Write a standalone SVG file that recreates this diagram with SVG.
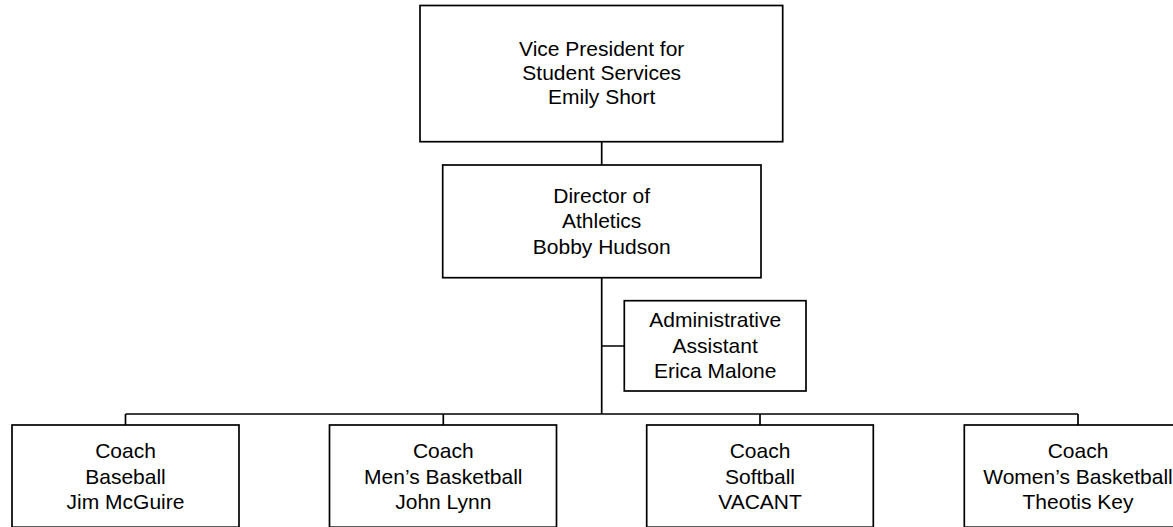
<svg xmlns="http://www.w3.org/2000/svg" width="1173" height="527" viewBox="0 0 1173 527">
<style>
.box{fill:#fff;stroke:#000;stroke-width:1.7}
.ln{fill:none;stroke:#000;stroke-width:1.7}
text{font-family:"Liberation Sans",Arial,sans-serif;font-size:21px;fill:#000;text-anchor:middle}
</style>
<rect width="1173" height="527" fill="#fff"/>
<g id="connectors">
<path class="ln" d="M601.7 141.7V165M601.7 277.7V414M601.7 346H624.3M125.5 414H1078M125.5 414V425M443.3 414V425M760 414V425M1078 414V425"/>
</g>
<g id="vp">
<rect class="box" x="420" y="5.5" width="362.7" height="136.2"/>
<text x="601.7" y="56">Vice President for</text>
<text x="601.7" y="80">Student Services</text>
<text x="601.7" y="104">Emily Short</text>
</g>
<g id="director">
<rect class="box" x="442.7" y="165" width="318.3" height="112.7"/>
<text x="601.7" y="203">Director of</text>
<text x="601.7" y="228.3">Athletics</text>
<text x="601.7" y="253.5">Bobby Hudson</text>
</g>
<g id="admin">
<rect class="box" x="624.3" y="300.7" width="181.7" height="90.3"/>
<text x="715.2" y="327">Administrative</text>
<text x="715.2" y="352.5">Assistant</text>
<text x="715.2" y="378">Erica Malone</text>
</g>
<g id="baseball">
<rect class="box" x="12" y="425" width="227" height="102.2"/>
<text x="125.5" y="458">Coach</text>
<text x="125.5" y="483.5">Baseball</text>
<text x="125.5" y="509">Jim McGuire</text>
</g>
<g id="mens">
<rect class="box" x="329.5" y="425" width="227" height="102.2"/>
<text x="443.3" y="458">Coach</text>
<text x="443.3" y="483.5">Men’s Basketball</text>
<text x="443.3" y="509">John Lynn</text>
</g>
<g id="softball">
<rect class="box" x="646.7" y="425" width="226.6" height="102.2"/>
<text x="760" y="458">Coach</text>
<text x="760" y="483.5">Softball</text>
<text x="760" y="509">VACANT</text>
</g>
<g id="womens">
<rect class="box" x="964.3" y="425" width="227.4" height="102.2"/>
<text x="1078" y="458">Coach</text>
<text x="1078" y="483.5">Women’s Basketball</text>
<text x="1078" y="509">Theotis Key</text>
</g>
</svg>
